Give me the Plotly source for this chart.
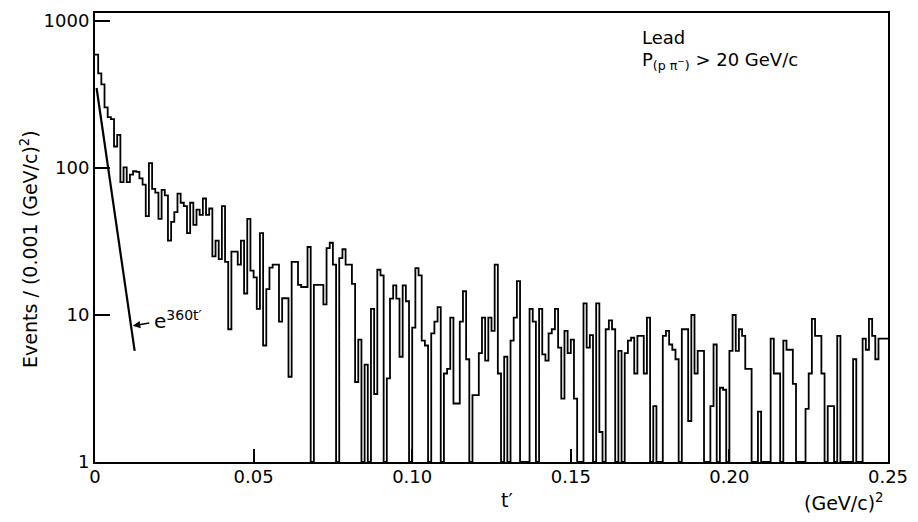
import plotly.graph_objects as go

# ---- data ----
bin_width = 0.001
counts = [
    590, 440, 370, 258, 222, 215, 140, 168, 80, 101,     # 0-9
    80, 90, 95, 94, 85, 77, 47, 108, 72, 68,             # 10-19
    45, 71, 65, 32, 43, 50, 67, 58, 55, 36,              # 20-29
    58, 41, 52, 48, 62, 48, 53, 25, 32, 24,              # 30-39
    55, 23, 8, 27, 27, 22, 32, 14, 45, 20,               # 40-49
    18, 11, 36, 6.2, 15, 21, 22, 22, 9, 13,              # 50-59
    13, 3.8, 23, 23, 16, 15.5, 15.5, 29, 0, 16,          # 60-69
    16, 16, 11.8, 28.5, 31, 22, 0, 24.4, 28, 22,         # 70-79
    22, 16.3, 3.5, 6.8, 0, 4.6, 0, 11, 2.9, 20.3,        # 80-89
    18.6, 0, 3.7, 12.9, 15.9, 12.9, 5.2, 15.9, 12.4, 0,  # 90-99
    8.2, 20.8, 18.6, 6.7, 6.2, 0, 7.5, 9, 11.3, 0,       # 100-109
    4, 4.3, 9.6, 2.5, 2.5, 9, 14.5, 5, 0, 2.85,          # 110-119
    2.85, 5.5, 9.6, 4.9, 9.6, 7.8, 22, 4, 0, 5.2,        # 120-129
    0, 6.7, 9.6, 17, 0, 0, 0, 11, 9, 0,                  # 130-139
    11, 5.4, 4.9, 7.5, 8, 11, 6, 2.7, 7.8, 5.5,          # 140-149
    6.8, 2.7, 0, 0, 12, 6, 7.3, 0, 12, 1.6,              # 150-159
    0, 8, 9.2, 8, 0, 5.7, 0, 5.5, 6.7, 7,                # 160-169
    4, 7.2, 7.2, 4, 9.6, 0, 2.4, 0, 0, 7.2,              # 170-179
    7.8, 6.3, 5.8, 5.0, 0, 8, 8, 1.9, 10, 4,             # 180-189
    5.7, 5.7, 0, 0, 2.4, 6.3, 0, 3.2, 3.1, 0,            # 190-199
    5.7, 10, 5.7, 8, 7.2, 4.3, 4.3, 0, 0, 2.2,           # 200-209
    0, 0, 0, 6.9, 4, 4, 0, 6.7, 5.8, 5.8,                # 210-219
    3.4, 0, 0, 0, 2.3, 4, 9.4, 7.2, 7.2, 4,              # 220-229
    0, 2.4, 2.4, 0, 7.2, 0, 0, 0, 0, 5,                  # 230-239
    0, 0, 6.9, 5.8, 9.4, 7.2, 5, 6.9, 6.9, 6.9,          # 240-249
]
fit_t = [0.0005, 0.0125]
fit_v = [350, 5.7]
x_tick_vals = [0, 0.05, 0.10, 0.15, 0.20, 0.25]
x_tick_text = ["0", "0.05", "0.10", "0.15", "0.20", "0.25"]
y_tick_vals = [1, 10, 100, 1000]
y_tick_text = ["1", "10", "100", "1000"]

# ---- build step outline ----
edges = [i * bin_width for i in range(len(counts) + 1)]
plot_counts = [max(c, 1) for c in counts]
step_y = plot_counts + [plot_counts[-1]]

FONT = "DejaVu Sans"
fig = go.Figure()
fig.add_trace(go.Scatter(
    x=edges, y=step_y, mode="lines", line=dict(shape="hv", color="black", width=1.8),
    hoverinfo="skip", showlegend=False))
fig.add_trace(go.Scatter(
    x=fit_t, y=fit_v, mode="lines", line=dict(color="black", width=2.2),
    hoverinfo="skip", showlegend=False))

fig.update_layout(
    width=918, height=522,
    margin=dict(l=95, r=23, t=10, b=60),
    paper_bgcolor="white", plot_bgcolor="white",
    font=dict(family=FONT, size=18, color="black"),
    showlegend=False,
)
fig.update_xaxes(
    range=[0, 0.25], showgrid=False, zeroline=False,
    showline=True, linecolor="black", linewidth=2, mirror=True,
    ticks="inside", ticklen=13, tickwidth=2, tickcolor="black",
    tickvals=x_tick_vals, ticktext=x_tick_text,
    tickfont=dict(family=FONT, size=18), ticklabelstandoff=-3,
)
fig.update_yaxes(
    type="log", range=[0, 3.054], showgrid=False, zeroline=False,
    showline=True, linecolor="black", linewidth=2, mirror=True,
    ticks="inside", ticklen=15, tickwidth=2, tickcolor="black",
    tickvals=y_tick_vals, ticktext=y_tick_text,
    tickfont=dict(family=FONT, size=18),
)

ann = []
ann.append(dict(text="Events / (0.001 (GeV/c)<sup>2</sup>)", xref="paper", yref="paper",
                x=-0.083, y=0.475, textangle=-90, showarrow=False,
                font=dict(family=FONT, size=19), xanchor="center", yanchor="middle"))
ann.append(dict(text="t′", xref="paper", yref="paper", x=0.519, y=-0.085,
                showarrow=False, font=dict(family=FONT, size=19),
                xanchor="center", yanchor="middle"))
ann.append(dict(text="(GeV/c)<sup>2</sup>", xref="paper", yref="paper", x=0.945, y=-0.088,
                showarrow=False, font=dict(family=FONT, size=19),
                xanchor="center", yanchor="middle"))
ann.append(dict(text="Lead", xref="paper", yref="paper", x=0.6875, y=0.945,
                showarrow=False, font=dict(family=FONT, size=18),
                xanchor="left", yanchor="middle"))
ann.append(dict(text="P<sub>(p π<sup>−</sup>)</sub> > 20 GeV/c", xref="paper", yref="paper",
                x=0.6875, y=0.893, showarrow=False, font=dict(family=FONT, size=18),
                xanchor="left", yanchor="middle"))
ann.append(dict(text="e<sup>360t′</sup>", xref="paper", yref="paper", x=0.0725, y=0.316,
                showarrow=False, font=dict(family=FONT, size=20),
                xanchor="left", yanchor="middle"))
# arrow pointing at the fit line
ann.append(dict(text="", x=0.0119, y=0.926, xref="x", yref="y",
                ax=18, ay=-3, showarrow=True, arrowhead=2, arrowsize=1,
                arrowwidth=1.5, arrowcolor="black"))
fig.update_layout(annotations=ann)

fig.write_html("out.html",
               config={"displayModeBar": False},
               post_script="document.body.style.margin='0';document.body.style.overflow='hidden';")
